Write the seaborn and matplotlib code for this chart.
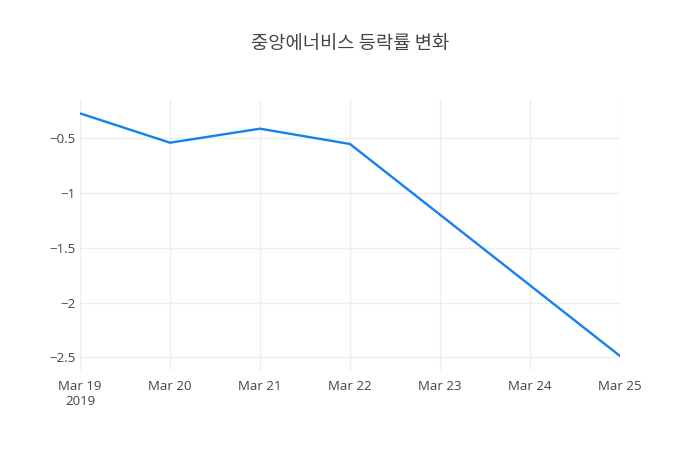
import matplotlib
matplotlib.use("Agg")
import seaborn as sns
import matplotlib.pyplot as plt
from matplotlib.ticker import FuncFormatter
import pandas as pd

# data
dates = ["2019-03-19", "2019-03-20", "2019-03-21", "2019-03-22", "2019-03-25"]
rates = [-0.272, -0.540, -0.412, -0.552, -2.488]
xtick_dates = ["2019-03-19", "2019-03-20", "2019-03-21", "2019-03-22",
               "2019-03-23", "2019-03-24", "2019-03-25"]
xtick_labels = ["Mar 19\n2019", "Mar 20", "Mar 21", "Mar 22", "Mar 23", "Mar 24", "Mar 25"]
yticks = [-0.5, -1, -1.5, -2, -2.5]
title = "중앙에너비스 등락률 변화"

df = pd.DataFrame({"date": pd.to_datetime(dates), "rate": rates})

sns.set_style("white")
plt.rcParams['font.family'] = ['Open Sans', 'Noto Sans CJK KR', 'DejaVu Sans']
txt = "#444444"

fig = plt.figure(figsize=(7, 4.5), dpi=100)
ax = fig.add_axes([80 / 700, 80 / 450, 540 / 700, 270 / 450])

sns.lineplot(data=df, x="date", y="rate", ax=ax, color="#1580ee", linewidth=1.7)

ax.set_xlim(pd.Timestamp(dates[0]), pd.Timestamp(dates[-1]))
ax.set_ylim(-2.616, -0.150)

ax.set_xticks(pd.to_datetime(xtick_dates))
ax.set_xticklabels(xtick_labels, color=txt, fontsize=9.5)
ax.set_yticks(yticks)
ax.yaxis.set_major_formatter(FuncFormatter(lambda v, p: f"{v:g}".replace("-", "\u2212")))
for lab in ax.get_yticklabels():
    lab.set_color(txt)
    lab.set_fontsize(9.5)

ax.tick_params(axis="both", length=0)
ax.tick_params(axis="x", pad=7)
ax.tick_params(axis="y", pad=3)
ax.grid(True, color="#eeeeee", linewidth=1)
ax.set_axisbelow(True)
for s in ax.spines.values():
    s.set_visible(False)
ax.set_xlabel("")
ax.set_ylabel("")

fig.text(0.5, 1 - 43 / 450, title, ha="center", va="center", fontsize=13.5,
         color=txt, family=['Noto Sans CJK KR', 'DejaVu Sans'])

fig.savefig("out.png", dpi=100)
